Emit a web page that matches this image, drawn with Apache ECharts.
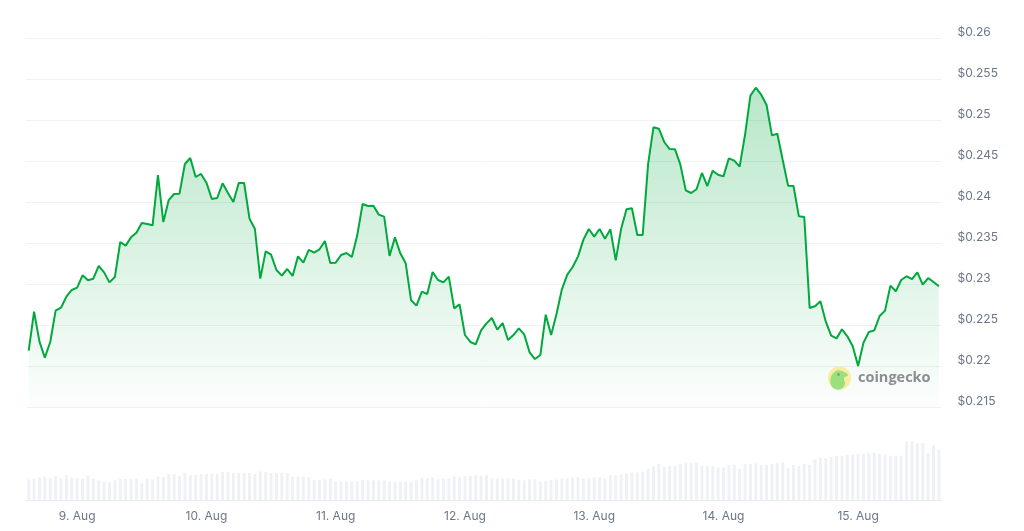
<!DOCTYPE html>
<html lang="en" style="height: 100%">

<head>
  <meta charset="utf-8">
</head>

<body style="height: 100%; margin: 0; background: #fff">
  <div id="container" style="height: 100%"></div>

  <script type="text/javascript" src="https://cdn.jsdelivr.net/npm/echarts@6/dist/echarts.min.js"></script>
  <script type="text/javascript">
    var prices = [
      .22193, .22669, .22303, .22108, .22299, .22681, .22717, .22852, .22933, .22961,
      .23112, .23051, .23071, .23226, .23148, .23026, .23091, .23518, .23474, .23575,
      .23632, .2375, .23738, .23722, .24335, .23762, .2403, .24104, .24108, .2447,
      .24543, .24311, .24348, .24242, .24043, .24055, .24234, .24116, .24006, .24238,
      .24238, .23803, .23677, .23071, .23404, .23364, .23177, .23108, .23189, .23104,
      .23343, .23266, .23421, .23388, .23429, .2353, .23262, .23266, .2336, .23384,
      .23335, .236, .23982, .23957, .23961, .23852, .23827, .23348, .23575, .2338,
      .23258, .22807, .22742, .22913, .22884, .23152, .23055, .23026, .23096, .22709,
      .22758, .22384, .22299, .2227, .22441, .22526, .22591, .22449, .2253, .22323,
      .22384, .22465, .22392, .22173, .22091, .2214, .22632, .22384, .2264, .22941,
      .2312, .23213, .23343, .23547, .23677, .23583, .23677, .23559, .23673, .23295,
      .23681, .23917, .23929, .23604, .23604, .24465, .24917, .249, .24738, .24652,
      .24648, .24461, .24148, .24116, .24161, .2436, .24201, .24388, .24339, .24319,
      .24539, .2451, .24437, .24823, .25303, .254, .25315, .25189, .24819, .24839,
      .24518, .24205, .24201, .23831, .23823, .22713, .22734, .22795, .22547, .22376,
      .22343, .22453, .22368, .22246, .22006, .22291, .22421, .22441, .22616, .22681,
      .22986, .22917, .23055, .231, .23067, .23148, .22998, .23079, .2303, .22978
    ];
    var volumes = [
      20.7, 21.3, 22.7, 23.7, 21.7, 23.7, 21.7, 25, 22.7, 22.3,
      21.3, 24.7, 21.7, 19.7, 18.7, 17.7, 19.7, 21.3, 21, 21,
      21.7, 16.7, 21.3, 20.7, 23.7, 23, 26, 26, 24, 27,
      25, 25, 26, 26, 26, 26, 28, 28, 27, 27,
      27, 27, 26, 28.7, 28.3, 27, 27, 27, 27, 23.7,
      23.7, 23.7, 22.7, 20, 20, 20.7, 21.3, 18.7, 18.7, 18.7,
      18.7, 18.7, 20.3, 19.7, 19.7, 19.7, 19.7, 18.7, 18.3, 18.3,
      18.7, 18.7, 19.7, 22.3, 21.7, 22.7, 20.7, 21.3, 21.3, 23.7,
      22.7, 23.7, 24, 24.7, 24.3, 24.7, 21.7, 21.7, 21.7, 21.7,
      21.7, 20.3, 19.7, 20.7, 20.7, 18.3, 18.7, 20.3, 20.7, 21.3,
      21.3, 22.7, 22.7, 21.7, 21.3, 22.7, 22.7, 21.3, 24.7, 24.7,
      25.7, 26.7, 27.7, 27.7, 28.3, 31, 33.7, 36, 33, 34,
      34, 36, 37, 37, 37.7, 34, 34, 34, 32.7, 32.7,
      35, 35, 31, 36, 36, 37, 35, 35, 36, 37,
      37.7, 32, 35, 34, 36, 35, 40.7, 42, 42, 43,
      44, 44.3, 45.3, 45.3, 46.3, 46.3, 47, 47.3, 46.3, 45.3,
      44.3, 44.3, 44.3, 58.7, 58.7, 56.7, 56.7, 47, 54.7, 50.7
    ];
    var dayLabels = ['9. Aug', '10. Aug', '11. Aug', '12. Aug', '13. Aug', '14. Aug', '15. Aug'];
    var dayIndexes = [9, 33, 57, 81, 105, 129, 154];

    var categories = prices.map(function (p, i) {
      var d = dayIndexes.indexOf(i);
      return d >= 0 ? dayLabels[d] : '';
    });
    function isDayTick(index) {
      return dayIndexes.indexOf(index) >= 0;
    }

    var myChart = echarts.init(document.getElementById('container'), null, { renderer: 'canvas' });

    var option = {
      animation: false,
      textStyle: { fontFamily: 'Inter' },
      grid: [
        { left: 26, right: 82.4, top: 38.5, bottom: 123.5 },
        { left: 26, right: 82.4, top: 440, bottom: 31 }
      ],
      xAxis: [
        {
          type: 'category',
          gridIndex: 0,
          data: categories,
          show: false
        },
        {
          type: 'category',
          gridIndex: 1,
          data: categories,
          axisLine: { lineStyle: { color: '#e9eef5' } },
          axisTick: { alignWithLabel: true, interval: isDayTick, length: 10, lineStyle: { color: '#eff2f5' } },
          axisLabel: { interval: isDayTick, hideOverlap: false, color: '#6b7788', fontSize: 12, margin: 10 }
        }
      ],
      yAxis: [
        {
          type: 'value',
          gridIndex: 0,
          position: 'right',
          min: 0.215,
          max: 0.26,
          interval: 0.005,
          axisLine: { show: false },
          axisTick: { show: false },
          splitLine: { lineStyle: { color: '#eff2f5' } },
          axisLabel: {
            color: '#6b7788',
            fontSize: 12,
            margin: 16,
            verticalAlign: 'bottom',
            formatter: function (v) { return '$' + v; }
          }
        },
        {
          type: 'value',
          gridIndex: 1,
          min: 0,
          max: 60,
          show: false
        }
      ],
      series: [
        {
          type: 'line',
          xAxisIndex: 0,
          yAxisIndex: 0,
          data: prices,
          symbol: 'none',
          lineStyle: { color: '#00a83e', width: 2 },
          areaStyle: {
            origin: 'start',
            opacity: 1,
            color: new echarts.graphic.LinearGradient(0, 0, 0, 1, [
              { offset: 0, color: 'rgba(0,168,62,0.28)' },
              { offset: 1, color: 'rgba(0,168,62,0.01)' }
            ])
          }
        },
        {
          type: 'bar',
          xAxisIndex: 1,
          yAxisIndex: 1,
          data: volumes,
          barWidth: 3,
          itemStyle: { color: '#eff2f5' }
        }
      ],
      // coingecko watermark
      graphic: [
        { type: 'circle', shape: { cx: 839.5, cy: 378, r: 11.5 }, style: { fill: '#f8ec9f' }, z: 10 },
        { type: 'polygon', shape: { points: [[831, 385], [831, 377], [836, 371], [842, 371], [848, 375], [844, 378], [845, 384], [841, 389], [835, 389]], smooth: 0.4 }, style: { fill: '#9be07c' }, z: 11 },
        { type: 'circle', shape: { cx: 838.5, cy: 374.5, r: 1.2 }, style: { fill: '#7a8a80' }, z: 12 },
        { type: 'text', x: 858, y: 378, style: { text: 'coingecko', fill: '#8a8d91', font: 'bold 14.5px "Open Sans"', verticalAlign: 'middle' }, z: 10 }
      ]
    };

    myChart.setOption(option);

    window.addEventListener('resize', myChart.resize);
  </script>
</body>

</html>
